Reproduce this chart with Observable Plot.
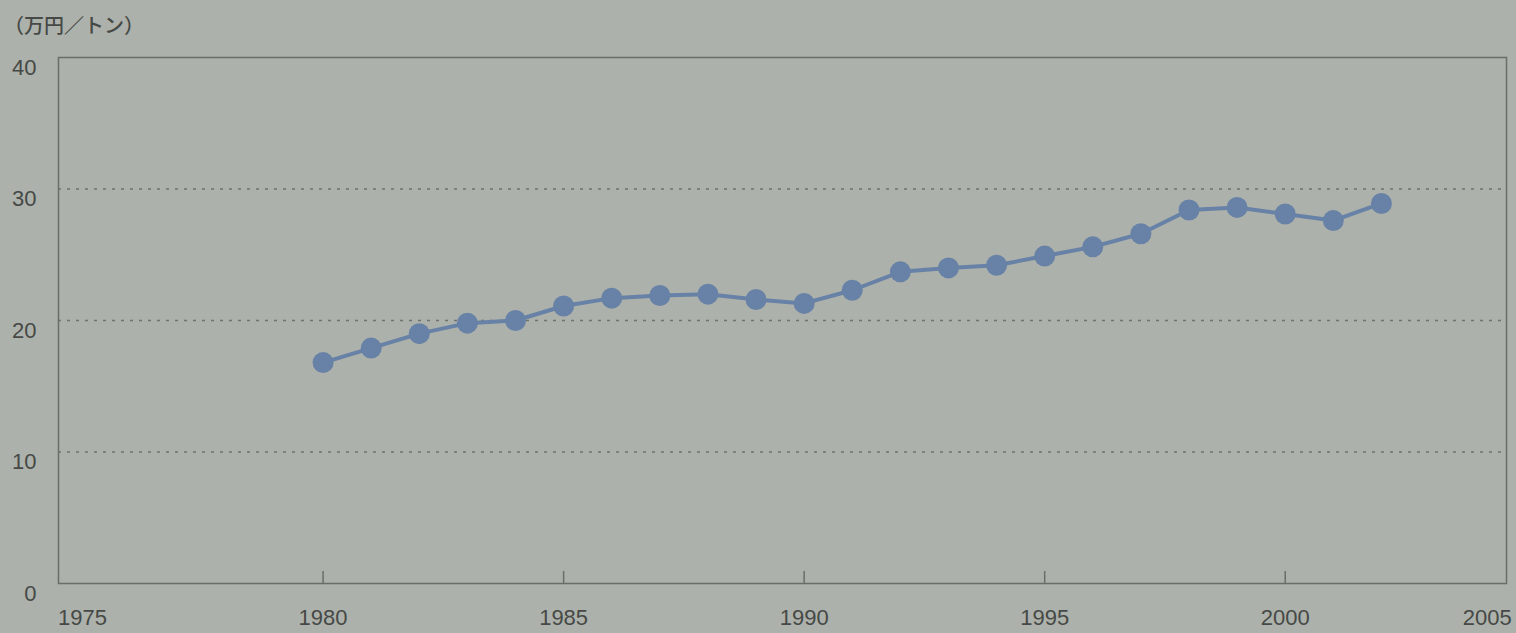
<!DOCTYPE html>
<html>
<head>
<meta charset="utf-8">
<script src="https://cdn.jsdelivr.net/npm/d3@7"></script>
<script src="https://cdn.jsdelivr.net/npm/@observablehq/plot@0.6"></script>
<style>
  html, body { margin: 0; padding: 0; background: #adb1ab; }
  #wrap { position: relative; width: 1516px; height: 633px; overflow: hidden; }
  #title { position: absolute; left: 4px; top: 10px; font-family: "Noto Sans CJK JP", sans-serif; font-size: 20px; font-weight: 500; color: #464946; }
</style>
</head>
<body>
<div id="wrap"><div id="title">（万円／トン）</div></div>
<script>
const years = [1980,1981,1982,1983,1984,1985,1986,1987,1988,1989,1990,1991,1992,1993,1994,1995,1996,1997,1998,1999,2000,2001,2002];
const prices = [16.8,17.9,19.0,19.8,20.0,21.1,21.7,21.9,22.0,21.6,21.3,22.3,23.7,24.0,24.2,24.9,25.6,26.6,28.4,28.6,28.1,27.6,28.9];
const xTickLabels = [1975,1980,1985,1990,1995,2000];
const xEndLabel = [2005];
const xInnerTicks = [1980,1985,1990,1995,2000];
const yTickLabels = [0,10,20,30,40];
const yGrid = [10,20,30];

const data = years.map((y, i) => ({year: y, price: prices[i]}));
const textColor = "#464946";

const chart = Plot.plot({
  width: 1516,
  height: 633,
  marginLeft: 58,
  marginRight: 10,
  marginTop: 57,
  marginBottom: 50,
  style: {background: "transparent", fontFamily: "Liberation Sans, Arial, sans-serif", color: textColor},
  x: {domain: [1974.5, 2004.6]},
  y: {domain: [0, 40]},
  marks: [
    Plot.gridY(yGrid, {stroke: "#6f736d", strokeOpacity: 1, strokeWidth: 1.5, strokeDasharray: "3,6"}),
    Plot.frame({stroke: "#6a6e69", strokeWidth: 1.5}),
    Plot.axisY(yTickLabels, {tickSize: 0, tickPadding: 22, dy: 10, fontSize: 22, fill: textColor, label: null}),
    Plot.axisX(xTickLabels, {tickSize: 0, tickPadding: 26, fontSize: 22, fill: textColor, label: null, tickFormat: d => String(d)}),
    Plot.axisX(xEndLabel, {tickSize: 0, tickPadding: 26, fontSize: 22, fill: textColor, label: null, textAnchor: "end", dx: -14, tickFormat: d => String(d)}),
    Plot.axisX(xInnerTicks, {tickSize: 12, dy: -12, tickFormat: () => "", label: null, stroke: "#6a6e69", strokeWidth: 1.5}),
    Plot.line(data, {x: "year", y: "price", stroke: "#6782a6", strokeWidth: 4}),
    Plot.dot(data, {x: "year", y: "price", r: 10.5, fill: "#6782a6", stroke: "none"})
  ]
});
document.getElementById("wrap").prepend(chart);
</script>
</body>
</html>
